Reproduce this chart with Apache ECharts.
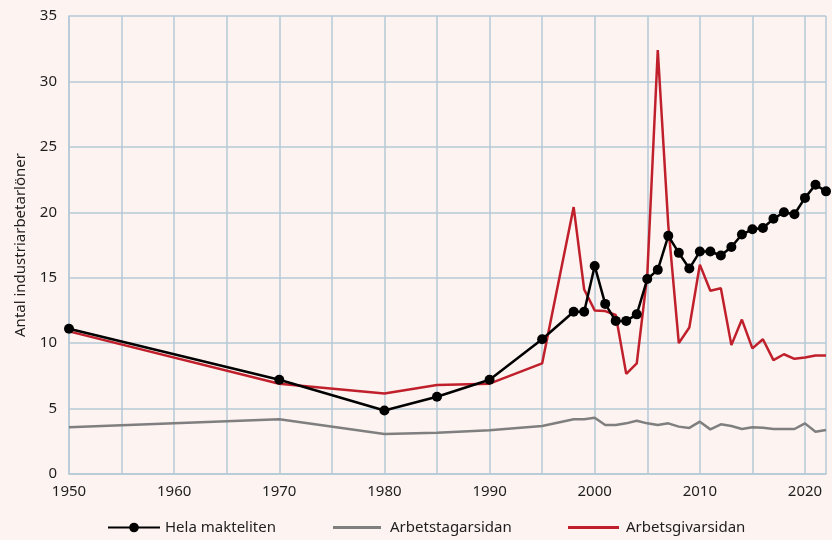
<!DOCTYPE html>
<html>
<head>
<meta charset="utf-8">
<script src="https://cdn.jsdelivr.net/npm/echarts@6/dist/echarts.min.js"></script>
<style>
html,body{margin:0;padding:0;background:#fdf3f1;}
#c{width:832px;height:540px;}
</style>
</head>
<body>
<div id="c"></div>
<script>
const years = [1950,1970,1980,1985,1990,1995,1998,1999,2000,2001,2002,2003,2004,2005,2006,2007,2008,2009,2010,2011,2012,2013,2014,2015,2016,2017,2018,2019,2020,2021,2022];
const helaMakteliten = [11.1,7.2,4.85,5.9,7.2,10.3,12.4,12.4,15.9,13.0,11.7,11.7,12.2,14.9,15.6,18.2,16.9,15.7,17.0,17.0,16.7,17.35,18.3,18.7,18.8,19.5,20.0,19.85,21.1,22.1,21.6];
const arbetstagarsidan = [3.57,4.18,3.05,3.15,3.35,3.67,4.18,4.18,4.3,3.74,3.74,3.87,4.07,3.87,3.74,3.87,3.62,3.52,4.0,3.41,3.8,3.67,3.44,3.57,3.54,3.44,3.44,3.44,3.87,3.23,3.36];
const arbetsgivarsidan = [10.9,6.9,6.15,6.8,6.9,8.45,20.4,14.1,12.5,12.45,12.15,7.65,8.45,15.2,32.4,19.0,10.0,11.2,16.0,14.0,14.2,9.85,11.8,9.6,10.3,8.7,9.15,8.8,8.9,9.05,9.05];
const seriesNames = ['Hela makteliten','Arbetstagarsidan','Arbetsgivarsidan'];
const yAxisName = 'Antal industriarbetarlöner';

const zip = v => years.map((y,i)=>[y,v[i]]);
const FONT = 'Noto Sans';
const FS = 15;
const gridColor = '#b5cad6';
const txt = '#1e1e1e';

const chart = echarts.init(document.getElementById('c'), null, {renderer:'canvas'});
chart.setOption({
  backgroundColor:'#fdf3f1',
  animation:false,
  textStyle:{fontFamily:FONT},
  grid:{left:69,right:6,top:16,bottom:66,containLabel:false},
  xAxis:{
    type:'value', min:1950, max:2022, interval:5,
    axisLine:{show:true,lineStyle:{color:gridColor,width:1.5}},
    axisTick:{show:false},
    splitLine:{show:true,lineStyle:{color:gridColor,width:1.5}},
    axisLabel:{color:txt,fontSize:FS,fontFamily:FONT,margin:10,
      formatter:v=> (v%10===0 ? String(v) : '')}
  },
  yAxis:{
    type:'value', min:0, max:35, interval:5,
    name:yAxisName, nameLocation:'middle', nameGap:41, nameRotate:90,
    nameTextStyle:{color:txt,fontSize:FS,fontFamily:FONT},
    axisLine:{show:true,lineStyle:{color:gridColor,width:1.5}},
    axisTick:{show:false},
    splitLine:{show:true,lineStyle:{color:gridColor,width:1.5}},
    axisLabel:{color:txt,fontSize:FS,fontFamily:FONT,margin:12}
  },
  legend:[
    {data:[seriesNames[0]],left:102,top:515,itemWidth:52,itemHeight:12,itemGap:0,
     textStyle:{color:txt,fontSize:FS,fontFamily:FONT}},
    {data:[{name:seriesNames[1],icon:'rect'}],left:328,top:515,itemWidth:48,itemHeight:3,itemGap:0,
     textStyle:{color:txt,fontSize:FS,fontFamily:FONT,padding:[0,0,0,4]}},
    {data:[{name:seriesNames[2],icon:'rect'}],left:563,top:515,itemWidth:51,itemHeight:3,itemGap:0,
     textStyle:{color:txt,fontSize:FS,fontFamily:FONT,padding:[0,0,0,2]}}
  ],
  series:[
    {name:seriesNames[1],type:'line',data:zip(arbetstagarsidan),symbol:'none',
     lineStyle:{color:'#7f7f7f',width:2.5},itemStyle:{color:'#7f7f7f'},z:2},
    {name:seriesNames[2],type:'line',data:zip(arbetsgivarsidan),symbol:'none',
     lineStyle:{color:'#c0202b',width:2.5},itemStyle:{color:'#c0202b'},z:3},
    {name:seriesNames[0],type:'line',data:zip(helaMakteliten),symbol:'circle',symbolSize:10,
     lineStyle:{color:'#000',width:2.5},itemStyle:{color:'#000'},z:4}
  ]
});
</script>
</body>
</html>
